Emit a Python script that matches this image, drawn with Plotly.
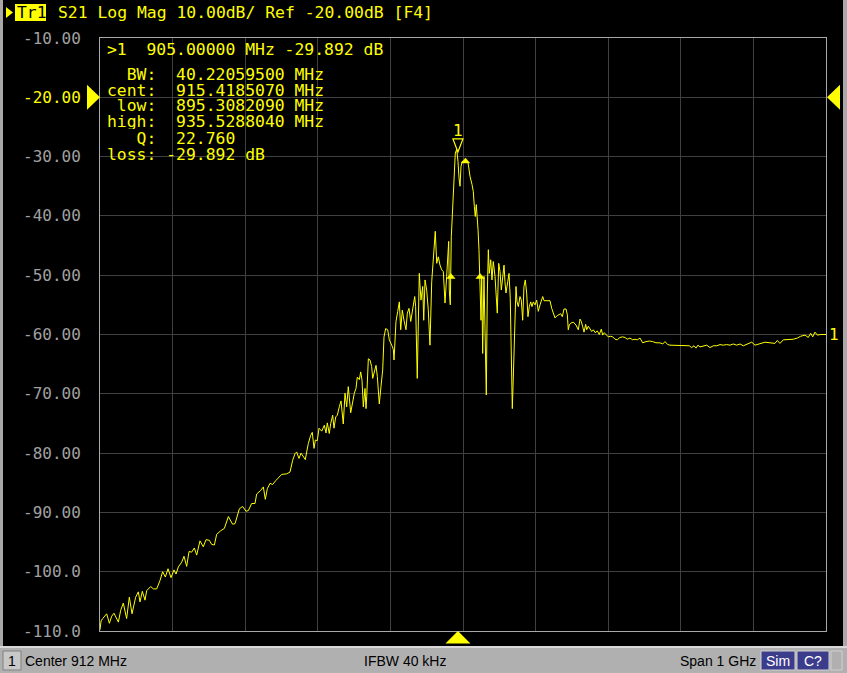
import plotly.graph_objects as go

# ---------------- data ----------------
freq_mhz = [
    412.0, 413.5, 415.7, 421.2, 424.9, 428.1, 431.3, 437.3, 440.5, 444.1, 448.7, 452.4, 456.1,
    461.1, 464.8, 467.1, 470.3, 474.0, 476.3, 481.8, 485.5, 490.1, 494.6, 498.3, 502.0, 505.7,
    509.8, 513.9, 516.7, 519.9, 524.5, 527.7, 531.4, 534.6, 538.3, 541.9, 545.2, 549.7, 554.3,
    558.0, 562.6, 565.8, 569.5, 572.7, 578.2, 583.3, 588.8, 594.7, 598.0, 603.9, 608.5, 613.1,
    616.3, 620.9, 625.5, 627.8, 633.3, 637.0, 639.7, 642.5, 646.2, 649.8, 654.4, 662.2, 669.1,
    673.7,
    677.4, 680.6, 682.9, 686.1, 688.9, 692.0, 694.8, 696.7, 698.9, 702.2, 704.4, 706.8, 708.6,
    711.3, 713.7, 717.4, 721.0, 723.3, 725.1, 727.8, 729.8, 732.5, 734.3, 736.7, 738.9, 741.6,
    744.0, 747.1, 749.5, 751.8, 754.0, 757.3, 760.1, 762.3, 764.6, 766.4, 769.2, 771.1, 772.9,
    774.7, 777.0, 778.4, 779.4, 781.6, 783.9, 786.2, 787.6, 790.8, 792.2, 794.0, 796.7, 799.0,
    801.4, 803.2, 805.5, 808.3, 810.5, 813.8, 816.0, 817.0, 818.3, 819.7, 822.1, 824.3,
    826.2, 828.4, 830.7, 833.5, 835.3, 837.6, 840.0, 842.2, 843.6, 845.5, 846.8, 849.0, 851.8,
    854.1, 856.5, 857.9, 859.7, 862.0, 864.2, 866.5, 868.9, 871.1, 872.5, 873.8, 875.8, 878.0,
    880.3, 882.7, 884.9, 887.2, 889.5, 890.9, 892.3, 893.1, 894.5, 895.9, 897.8, 899.6, 901.4,
    903.3, 905.1, 906.5, 907.9, 909.2, 911.0, 913.4, 916.1, 918.9, 921.6, 924.4, 926.2, 927.6,
    928.9, 930.3, 931.7, 932.7, 934.0, 935.4, 936.8, 937.8, 939.1, 940.9, 942.7, 944.1, 945.5,
    946.9, 948.2, 950.2, 951.9, 953.7, 956.1, 957.9, 959.2, 961.2, 963.0, 964.8, 966.7, 968.5,
    969.8, 971.2, 973.6, 975.4, 977.1, 978.5, 979.9, 980.9, 982.2, 983.6, 985.0, 986.4, 988.2,
    990.5, 992.3, 994.2, 996.0, 997.8, 999.7, 1001.5, 1003.3, 1005.3, 1007.0, 1008.8, 1011.2,
    1013.5, 1015.7, 1018.1,
    1020.4, 1021.8, 1023.6, 1031.8, 1034.2, 1036.4, 1038.7, 1041.9, 1046.6, 1048.8, 1051.1,
    1053.9, 1055.7, 1057.0, 1058.4, 1060.4, 1063.9, 1067.6, 1070.8, 1073.2, 1074.9, 1076.9,
    1078.7, 1081.0, 1082.4, 1084.6, 1086.9, 1089.3, 1091.5, 1094.2, 1097.0, 1099.7, 1102.5,
    1104.4, 1106.6, 1109.0, 1112.1, 1115.4, 1118.2, 1121.4, 1124.5, 1128.2, 1132.0, 1135.1,
    1138.3, 1142.0, 1145.8, 1148.9, 1152.1, 1155.8, 1159.5, 1164.1, 1168.6, 1173.3, 1177.8,
    1183.3, 1187.1, 1190.2, 1194.0, 1197.1, 1201.7, 1206.4, 1209.9, 1214.6, 1219.2, 1223.7,
    1227.0, 1230.2, 1232.9, 1235.7, 1238.4,
    1243.0, 1247.7, 1252.2, 1256.8, 1261.5, 1266.0, 1270.5, 1275.2, 1279.8, 1284.3, 1289.0,
    1293.5, 1298.1, 1302.8, 1309.7, 1314.2, 1321.1, 1328.0, 1334.9, 1341.7, 1344.9, 1348.6,
    1353.2, 1360.1, 1367.0, 1372.5, 1377.1, 1383.1, 1387.6, 1390.9, 1393.7, 1396.8, 1400.0,
    1404.7, 1412.0,
]

s21_db = [
    -109.8, -108.3, -107.9, -107.1, -108.7, -107.5, -107.0, -108.5, -106.5, -105.3, -107.9, -104.3, -107.1,
    -104.3, -103.4, -105.1, -103.3, -104.8, -103.2, -102.5, -102.9, -102.9, -101.5, -100.0, -100.9, -99.5,
    -101.0, -99.7, -100.4, -99.2, -98.4, -97.4, -99.1, -96.6, -96.7, -96.0, -97.2, -94.8, -95.8,
    -94.6, -94.7, -95.4, -95.5, -93.7, -93.1, -92.7, -90.7, -92.0, -91.9, -89.4, -89.0, -89.8,
    -89.7, -88.5, -88.5, -86.9, -86.3, -85.7, -87.8, -86.0, -85.1, -85.3, -84.6, -83.6, -83.5,
    -83.2,
    -81.2, -80.1, -79.8, -80.9, -80.0, -80.6, -81.1, -79.8, -78.4, -77.0, -76.5, -79.2, -77.8,
    -77.9, -75.8, -76.3, -75.3, -76.6, -74.9, -76.7, -75.0, -73.6, -75.8, -73.9, -73.6, -72.2,
    -71.2, -75.1, -69.9, -72.2, -68.8, -73.2, -71.1, -69.9, -69.1, -67.2, -67.6, -66.3, -67.7,
    -72.2, -69.1, -72.5, -70.5, -64.1, -64.3, -65.4, -67.4, -66.0, -65.2, -67.1, -71.7, -68.8,
    -66.0, -60.4, -59.0, -59.2, -60.9, -61.8, -62.5, -64.3, -60.4, -57.8, -56.1, -54.5,
    -59.2, -55.9, -57.6, -59.2, -56.4, -55.6, -57.8, -55.9, -54.7, -53.6, -55.3, -67.4, -49.7,
    -54.2, -51.9, -57.6, -50.8, -52.5, -55.9, -61.8, -51.1, -46.6, -43.5, -42.6, -48.0, -46.9,
    -48.3, -49.1, -49.4, -54.7, -50.2, -46.3, -44.3, -52.5, -55.0, -43.5, -37.8, -32.8, -29.4,
    -28.8, -30.8, -33.6, -35.0, -31.7, -30.8, -30.8, -30.5, -31.0, -33.3, -34.7, -35.9, -38.4,
    -40.1, -38.1, -40.1, -42.3, -45.7, -50.2, -57.6, -50.2, -63.2, -50.2, -65.4, -70.2, -53.0,
    -45.7, -49.7, -47.4, -50.8, -47.7, -50.2, -54.2, -56.4, -48.0, -49.4, -52.5, -49.7, -48.3,
    -51.1, -53.0, -51.1, -49.7, -53.9, -63.2, -72.5, -68.8, -62.1, -55.3, -51.9, -54.5, -55.3,
    -53.6, -54.2, -57.6, -51.9, -50.8, -53.0, -57.0, -55.3, -54.5, -55.3, -54.5, -55.0,
    -54.2, -56.1, -55.0,
    -54.1, -53.6, -54.3, -54.3, -55.6, -56.4, -57.2, -56.8, -56.5, -57.0, -55.7,
    -55.7, -56.7, -59.2, -58.4, -58.1, -57.9, -58.4, -59.2, -57.4, -57.8, -58.7,
    -59.6, -58.3, -59.2, -58.6, -59.0, -59.5, -59.2, -59.7, -59.4, -60.0, -59.1,
    -60.1, -59.7, -60.0, -60.4, -60.3, -60.4, -60.8, -60.9, -60.5, -60.4, -60.5,
    -60.8, -60.6, -60.9, -60.8, -60.9, -60.6, -61.4, -61.2, -61.1, -61.2, -61.4,
    -61.4, -61.6, -61.2, -61.7, -61.8, -61.8, -61.8, -61.9, -61.8, -61.9, -61.9,
    -62.2, -61.9, -62.3, -61.8, -62.1,
    -61.9, -61.8, -62.2, -61.9, -61.9, -61.7, -61.8, -61.7, -61.8, -61.6, -61.8,
    -61.6, -61.9, -61.7, -61.3, -61.8, -61.5, -61.3, -61.4, -61.5, -61.0, -61.5,
    -60.9, -60.9, -60.8, -60.6, -60.3, -60.1, -60.5, -59.8, -60.4, -59.6, -60.1,
    -60.0, -60.0,
]

# marker 1 and bandwidth search results
marker_freq = 905.0
marker_db = -29.892
bw_mhz = 40.22059500
cent_mhz = 915.4185070
low_mhz = 895.3082090
high_mhz = 935.5288040
q_value = 22.760
bw_level_db = -49.892
cent_db = -30.4

# axis settings
center_mhz = 912.0
span_mhz = 1000.0
ref_db = -20.0
scale_db = 10.0
y_ticks = [-10, -20, -30, -40, -50, -60, -70, -80, -90, -100, -110]

x_min = center_mhz - span_mhz / 2
x_max = center_mhz + span_mhz / 2

# ---------------- layout geometry ----------------
W, H = 847, 673
L, R, T, B = 100, 21, 38, 42
PW, PH = W - L - R, H - T - B
MHZ_PER_PX = span_mhz / PW
DB_PER_PX = (y_ticks[0] - y_ticks[-1]) / PH


def xp(px):
    return (px - L) / PW


def yp(py):
    return (H - B - py) / PH


YEL = "#ffff00"
GRAY_TXT = "#a0a0a0"
MONO = "DejaVu Sans Mono"
SANS = "Liberation Sans"

fig = go.Figure()
fig.add_trace(go.Scatter(x=freq_mhz, y=s21_db, mode="lines",
                         line=dict(color=YEL, width=1), hoverinfo="skip",
                         showlegend=False))

shapes = []
ann = []

# ---- marker 1 (open down triangle, tip slightly above value)
hw = 5 * MHZ_PER_PX
tip = marker_db + 4 * DB_PER_PX
top = tip + 13 * DB_PER_PX
shapes.append(dict(type="path", xref="x", yref="y",
                   path=f"M {marker_freq-hw},{top} L {marker_freq+hw},{top} L {marker_freq},{tip} Z",
                   line=dict(color=YEL, width=1.2), fillcolor="rgba(0,0,0,0)"))
ann.append(dict(xref="x", yref="y", x=marker_freq, y=top, yshift=9, text="1",
                showarrow=False, font=dict(family=MONO, size=16, color=YEL),
                xanchor="center", yanchor="middle", height=14))

# ---- bandwidth markers (small filled up triangles)
for f, v in [(low_mhz, bw_level_db), (cent_mhz, cent_db), (high_mhz, bw_level_db)]:
    hw2 = 4.2 * MHZ_PER_PX
    t2 = v + 1 * DB_PER_PX
    b2 = v - 4 * DB_PER_PX
    shapes.append(dict(type="path", xref="x", yref="y",
                       path=f"M {f-hw2},{b2} L {f+hw2},{b2} L {f},{t2} Z",
                       line=dict(color=YEL, width=0.5), fillcolor=YEL))

# ---- bottom triangle at marker frequency
bw3 = 12.5 * MHZ_PER_PX
shapes.append(dict(type="path", xref="x", yref="paper",
                   path=f"M {marker_freq-bw3},{yp(643.5)} L {marker_freq+bw3},{yp(643.5)} L {marker_freq},{yp(631)} Z",
                   line=dict(color=YEL, width=0), fillcolor=YEL))

# ---- reference level triangles
rh = 12.5 * DB_PER_PX
shapes.append(dict(type="path", xref="paper", yref="y",
                   path=f"M {xp(87)},{ref_db+rh} L {xp(100)},{ref_db} L {xp(87)},{ref_db-rh} Z",
                   line=dict(color=YEL, width=0), fillcolor=YEL))
shapes.append(dict(type="path", xref="paper", yref="y",
                   path=f"M {xp(840)},{ref_db+rh} L {xp(827)},{ref_db} L {xp(840)},{ref_db-rh} Z",
                   line=dict(color=YEL, width=0), fillcolor=YEL))

# ---- y tick labels
for v in y_ticks:
    txt = f"{v:.2f}" if abs(v) < 100 else f"{v:.1f}"
    ann.append(dict(xref="paper", yref="y", x=0, y=v, xshift=-17, text=txt,
                    showarrow=False, xanchor="right", yanchor="middle",
                    font=dict(family=MONO, size=16,
                              color=YEL if v == ref_db else GRAY_TXT)))

# ---- trace end label
ann.append(dict(xref="x", yref="y", x=freq_mhz[-1], y=s21_db[-1], xshift=1, text="1",
                showarrow=False, xanchor="left", yanchor="middle",
                font=dict(family=MONO, size=16, color=YEL)))

# ---- marker readout
NB = "\u00a0"
readout = [
    (f">1{NB*2}{marker_freq:.5f} MHz {marker_db:.3f} dB", 50),
    (f"{NB*2}BW:{NB*2}{bw_mhz:.8f} MHz", 74),
    (f"cent:{NB*2}{cent_mhz:.7f} MHz", 90),
    (f"{NB}low:{NB*2}{low_mhz:.7f} MHz", 106),
    (f"high:{NB*2}{high_mhz:.7f} MHz", 122),
    (f"{NB*3}Q:{NB*2}{q_value:.3f}", 138),
    (f"loss:{NB}{marker_db:.3f} dB", 154),
]
for txt, py in readout:
    ann.append(dict(xref="paper", yref="paper", x=xp(106), y=yp(py),
                    text=txt.replace(" ", NB), showarrow=False,
                    xanchor="left", yanchor="middle", height=15, borderpad=0,
                    font=dict(family=MONO, size=16.4, color=YEL)))

# ---- header
shapes.append(dict(type="rect", xref="paper", yref="paper",
                   x0=xp(15), x1=xp(46), y0=yp(21), y1=yp(4),
                   fillcolor=YEL, line=dict(width=0), layer="above"))
shapes.append(dict(type="path", xref="paper", yref="paper",
                   path=f"M {xp(6)},{yp(7)} L {xp(13)},{yp(12.5)} L {xp(6)},{yp(18)} Z",
                   fillcolor=YEL, line=dict(width=0)))
ann.append(dict(xref="paper", yref="paper", x=xp(15), y=yp(12.5), text="Tr1",
                showarrow=False, xanchor="left", yanchor="middle",
                font=dict(family=MONO, size=16.4, color="black")))
header = f"S21 Log Mag {scale_db:.2f}dB/ Ref {ref_db:.2f}dB [F4]"
ann.append(dict(xref="paper", yref="paper", x=xp(56), y=yp(12.5),
                text=header.replace(" ", NB), showarrow=False,
                xanchor="left", yanchor="middle",
                font=dict(family=MONO, size=16.4, color=YEL)))

# ---- window borders
shapes.append(dict(type="rect", xref="paper", yref="paper",
                   x0=xp(0), x1=xp(3), y0=yp(646), y1=yp(0),
                   fillcolor="#a8a8a8", line=dict(width=0)))
shapes.append(dict(type="rect", xref="paper", yref="paper",
                   x0=xp(843), x1=xp(847), y0=yp(646), y1=yp(0),
                   fillcolor="#a8a8a8", line=dict(width=0)))

# ---- status bar
shapes.append(dict(type="rect", xref="paper", yref="paper",
                   x0=xp(0), x1=xp(847), y0=yp(673), y1=yp(646),
                   fillcolor="#b0b0b0", line=dict(width=0)))
shapes.append(dict(type="rect", xref="paper", yref="paper",
                   x0=xp(0), x1=xp(847), y0=yp(648), y1=yp(646),
                   fillcolor="#d8d8d8", line=dict(width=0)))
shapes.append(dict(type="rect", xref="paper", yref="paper",
                   x0=xp(3), x1=xp(21), y0=yp(670), y1=yp(651),
                   fillcolor="#c8c8c8", line=dict(color="#808080", width=1)))
for x0, x1 in [(761, 795), (797, 829)]:
    shapes.append(dict(type="rect", xref="paper", yref="paper",
                       x0=xp(x0), x1=xp(x1), y0=yp(670), y1=yp(651),
                       fillcolor="#3c3c8c", line=dict(color="#d0d0d0", width=1)))
shapes.append(dict(type="rect", xref="paper", yref="paper",
                   x0=xp(831), x1=xp(842), y0=yp(670), y1=yp(651),
                   fillcolor="#b0b0b0", line=dict(color="#d0d0d0", width=1)))

status = [
    ("1", 12, "center", "black"),
    (f"Center {center_mhz:.0f} MHz", 24, "left", "black"),
    ("IFBW 40 kHz", 405, "center", "black"),
    (f"Span {span_mhz/1000:.0f} GHz", 757, "right", "black"),
    ("Sim", 778, "center", "white"),
    ("C?", 813, "center", "white"),
]
for txt, px, anc, col in status:
    ann.append(dict(xref="paper", yref="paper", x=xp(px), y=yp(660.5),
                    text=txt, showarrow=False, xanchor=anc, yanchor="middle",
                    height=16, borderpad=0,
                    font=dict(family=SANS, size=14, color=col)))

fig.update_layout(
    width=W, height=H,
    margin=dict(l=L, r=R, t=T, b=B, pad=0),
    paper_bgcolor="black", plot_bgcolor="black",
    xaxis=dict(range=[x_min, x_max], tick0=x_min, dtick=span_mhz / 10,
               showgrid=True, gridcolor="#404040", gridwidth=1,
               showticklabels=False, ticks="", zeroline=False,
               showline=True, linecolor="#a8a8a8", linewidth=1, mirror=True,
               fixedrange=True),
    yaxis=dict(range=[y_ticks[-1], y_ticks[0]], tick0=y_ticks[-1], dtick=scale_db,
               showgrid=True, gridcolor="#404040", gridwidth=1,
               showticklabels=False, ticks="", zeroline=False,
               showline=True, linecolor="#a8a8a8", linewidth=1, mirror=True,
               fixedrange=True),
    shapes=shapes,
    annotations=ann,
    showlegend=False,
)

fig.write_html("out.html", config={"displayModeBar": False},
               post_script="document.body.style.margin='0';document.body.style.overflow='hidden';document.body.style.background='black';")
